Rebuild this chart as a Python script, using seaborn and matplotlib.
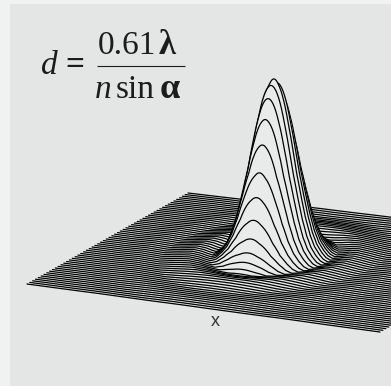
import numpy as np
import matplotlib
matplotlib.use('Agg')
import matplotlib.pyplot as plt
import seaborn as sns

# height profile of the bump: radius (1 = first dark ring), relative height
# the lines look this profile up with np.interp, their points are not read one by one
profile_r = [0, 0.083, 0.167, 0.25, 0.333, 0.417, 0.5, 0.583, 0.667, 0.75, 0.833, 0.917, 1.0,
             1.1, 1.2, 1.34, 1.5, 1.65, 1.83, 2.0, 2.2, 2.45, 2.66, 2.85, 3.05, 3.3, 3.5, 9.0]
profile_h = [1.0, 0.97, 0.90, 0.785, 0.645, 0.49, 0.36, 0.24, 0.145, 0.08, 0.04, 0.012, 0.0,
             0.006, 0.014, 0.0175, 0.012, 0.005, 0.0, 0.002, 0.0042, 0.002, 0.0, 0.001, 0.0016, 0.0006, 0.0, 0.0]

# view of the sheet, in image pixels: left, front, back, right corner
corners = [(27, 284), (380, 332), (188, 193), (547, 237)]
centre_px = (274, 255)
peak_px = 176
n_lines = 58
radius_u, radius_v = 0.15, 0.215

bg = '#e4e6e6'
fill = '#e9ebeb'
outer = '#f0f2f2'
ink = '#1c1c1c'


def homography(pts):
    src = [(0, 0), (1, 0), (0, 1), (1, 1)]
    a, b = [], []
    for (u, v), (x, y) in zip(src, pts):
        a.append([u, v, 1, 0, 0, 0, -u * x, -v * x])
        a.append([0, 0, 0, u, v, 1, -u * y, -v * y])
        b += [x, y]
    return np.append(np.linalg.solve(np.array(a, float), np.array(b, float)), 1).reshape(3, 3)


H = homography(corners)
c = np.linalg.solve(H, [centre_px[0], centre_px[1], 1])
u0, v0 = c[0] / c[2], c[1] / c[2]

sns.set_theme(style='white')
plt.rcParams['font.family'] = ['Liberation Serif', 'DejaVu Serif']

fig = plt.figure(figsize=(3.91, 3.86), dpi=100, facecolor=outer)
ax = fig.add_axes([10 / 391, 0, 381 / 391, 382 / 386], facecolor=bg)
ax.set_xlim(10, 391)
ax.set_ylim(386, 4)
ax.axis('off')
ax.add_patch(plt.Rectangle((10, 4), 381, 382, color=bg, zorder=0))

# back to front, each line hides what is behind it
u = np.linspace(0, 1, 500)
for i, v in enumerate(np.linspace(1, 0, n_lines)):
    p = H @ np.vstack([u, np.full_like(u, v), np.ones_like(u)])
    x, y = p[0] / p[2], p[1] / p[2]
    r2 = ((u - u0) / radius_u) ** 2 + ((v - v0) / radius_v) ** 2
    h = np.interp(r2, np.array(profile_r) ** 2, profile_h)
    top = y - h * peak_px
    ax.fill_between(x, top, y + (0 if i == n_lines - 1 else 2), color=fill, lw=0, zorder=2 * i + 1)
    sns.lineplot(x=x, y=top, ax=ax, color='black', lw=0.9, sort=False, estimator=None,
                 errorbar=None, zorder=2 * i + 2)

top_z = 2 * n_lines + 5
fs = 24
ax.text(41, 74, 'd', style='italic', fontsize=fs, color=ink, zorder=top_z)
ax.text(65, 74, '=', fontsize=fs, fontweight='bold', color=ink, zorder=top_z)
ax.text(98, 54, '0.61', fontsize=fs, color=ink, zorder=top_z)
ax.text(159, 54, 'λ', fontsize=fs + 1, fontweight='bold', color=ink, zorder=top_z)
ax.hlines(66, 97, 185, color=ink, lw=0.8, zorder=top_z)
ax.text(95, 98, 'n', style='italic', fontsize=fs, color=ink, zorder=top_z)
ax.text(116, 98, 'sin', fontsize=fs, color=ink, zorder=top_z)
ax.text(160, 98, 'α', fontsize=fs + 2, fontweight='bold', color=ink, zorder=top_z)
ax.text(215, 322, 'x', family='Liberation Sans', fontsize=13, color='#333333',
        ha='center', va='center', zorder=top_z)

fig.savefig('out.png', dpi=100, facecolor=outer)
